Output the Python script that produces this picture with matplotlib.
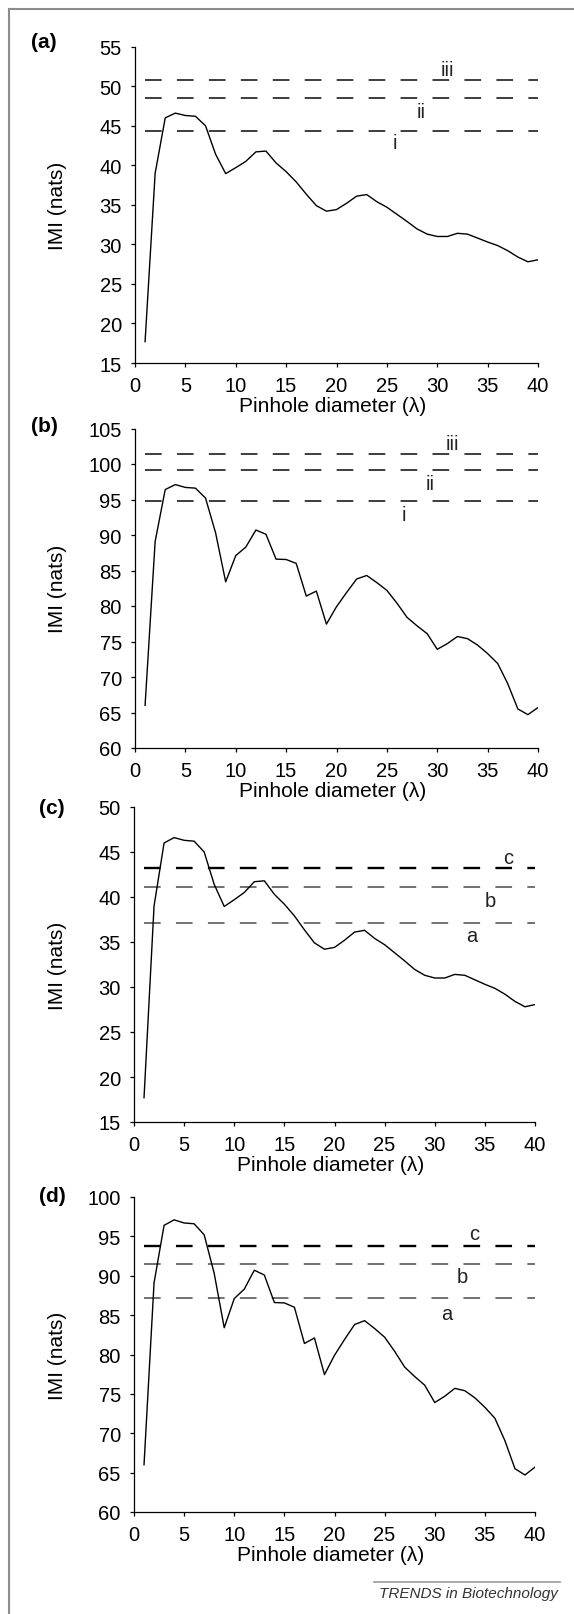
import numpy as np
import matplotlib.pyplot as plt
from matplotlib.lines import Line2D

plt.rcParams['font.family'] = ['Liberation Sans', 'DejaVu Sans']
plt.rcParams['lines.scale_dashes'] = False

# pinhole diameters (lambda)
diam = np.arange(1, 41)

# IMI curves; (c) repeats (a), (d) repeats (b)
imi_1 = [17.7, 39.0, 46.0, 46.6, 46.3, 46.2, 45.0, 41.4, 38.95, 39.7,
         40.5, 41.7, 41.8, 40.3, 39.2, 37.9, 36.35, 34.9, 34.2, 34.4,
         35.2, 36.1, 36.3, 35.4, 34.7, 33.8, 32.9, 31.95, 31.3, 31.0,
         31.0, 31.4, 31.3, 30.8, 30.3, 29.85, 29.2, 28.4, 27.8, 28.05]
imi_2 = [66.0, 89.1, 96.4, 97.1, 96.7, 96.6, 95.2, 90.3, 83.4, 87.1,
         88.3, 90.7, 90.1, 86.6, 86.55, 86.0, 81.4, 82.1, 77.45, 79.9,
         81.9, 83.8, 84.3, 83.3, 82.2, 80.4, 78.4, 77.2, 76.1, 73.9,
         74.7, 75.7, 75.4, 74.5, 73.3, 71.9, 69.05, 65.5, 64.7, 65.7]

# horizontal reference levels
thr_a = [44.4, 48.5, 50.8]     # i, ii, iii
thr_b = [94.8, 99.1, 101.4]
thr_c = [37.1, 41.1, 43.25]    # a, b, c
thr_d = [87.2, 91.5, 93.8]
roman = ['i', 'ii', 'iii']
abc = ['a', 'b', 'c']

W, H = 574, 1615
fig = plt.figure(figsize=(W / 100, H / 100), dpi=100)


def px_axes(l, t, r, b):
    return fig.add_axes([l / W, 1 - b / H, (r - l) / W, (b - t) / H])


panels = [
    # letter, box (px), letter pos (px), curve, ylim, levels, names, name positions
    ('(a)', (135, 47.7, 538, 364), (44, 42), imi_1, (15, 55), thr_a, roman,
     [(25.8, 42.9), (28.4, 46.8), (31.0, 52.1)], False),
    ('(b)', (135, 429.5, 538, 749), (44, 426), imi_2, (60, 105), thr_b, roman,
     [(26.7, 92.9), (29.3, 97.3), (31.5, 102.9)], False),
    ('(c)', (134, 808, 535, 1123), (52, 809), imi_1, (15, 50), thr_c, abc,
     [(33.7, 35.7), (35.5, 39.6), (37.3, 44.4)], True),
    ('(d)', (134, 1198, 535, 1513), (52, 1197), imi_2, (60, 100), thr_d, abc,
     [(31.2, 85.25), (32.7, 89.9), (33.9, 95.4)], True),
]

for letter, box, lpos, curve, ylim, levels, names, npos, heavy_top in panels:
    l, t, r, b = box
    ax = px_axes(l, t, r, b)
    ax.plot(diam, curve, color='black', lw=1.0, zorder=3)

    for k, (lev, nm, (nx, ny)) in enumerate(zip(levels, names, npos)):
        if heavy_top and k == 2:
            col, lw = 'black', 1.7
        elif heavy_top:
            col, lw = '#4a4a4a', 1.1
        else:
            col, lw = '#262626', 1.25
        ax.plot([1, 40], [lev, lev], color=col, lw=lw, dashes=(12, 11), zorder=2)
        ax.text(nx, ny, nm, fontsize=14.5, ha='center', va='center', color='#222222')

    ax.set_xlim(0, 40)
    ax.set_ylim(*ylim)
    ax.set_xticks(range(0, 41, 5))
    ax.set_yticks(range(ylim[0], ylim[1] + 1, 5))
    ax.spines['top'].set_visible(False)
    ax.spines['right'].set_visible(False)
    for s in ('left', 'bottom'):
        ax.spines[s].set_linewidth(0.9)
    ax.tick_params(direction='out', length=3, width=0.9, pad=6.5, labelsize=14.5)

    h = b - t
    w = r - l
    ax.set_xlabel('Pinhole diameter (λ)', fontsize=15)
    ax.xaxis.set_label_coords(0.49, -33 / h)
    ax.set_ylabel('IMI (nats)', fontsize=15)
    ax.yaxis.set_label_coords((67 - l) / w, 0.5)

    fig.text(lpos[0] / W, 1 - lpos[1] / H, letter, fontsize=15, fontweight='bold',
             ha='center', va='center')

# outer frame (top and left only)
fig.add_artist(Line2D([9 / W, 1], [1 - 10 / H, 1 - 10 / H], transform=fig.transFigure,
                      color='#8c8c8c', lw=1.5))
fig.add_artist(Line2D([9 / W, 9 / W], [1 - 10 / H, 0], transform=fig.transFigure,
                      color='#8c8c8c', lw=1.5))

# journal footer
fig.add_artist(Line2D([374 / W, 560 / W], [1 - 1583 / H, 1 - 1583 / H],
                      transform=fig.transFigure, color='#999999', lw=1.2))
fig.text(558 / W, 1 - 1598 / H, 'TRENDS in Biotechnology', ha='right', va='baseline',
         style='italic', fontsize=11, color='#333333')

fig.savefig('out.png', dpi=100)
